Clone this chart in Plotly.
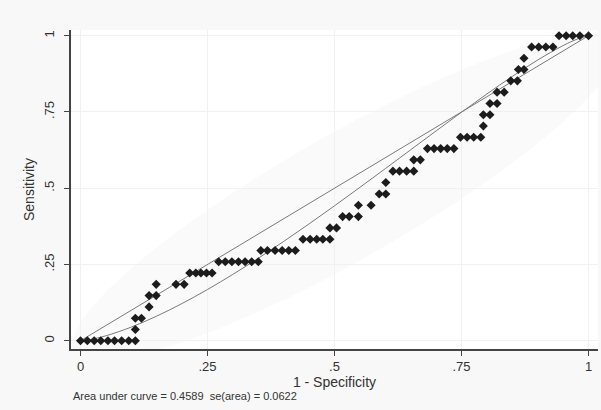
import numpy as np
import plotly.graph_objects as go

# Empirical ROC points (1 - specificity, sensitivity)
roc_x = [0, .0135, .027, .04, .054, .067, .081, .095, .108,
         .108, .108, .120, .135, .135, .149, .149, .188, .204,
         .215, .227, .237, .248, .259,
         .272, .285, .298, .311, .324, .337, .350,
         .355, .368, .383, .397, .410, .423,
         .438, .452, .465, .477, .491,
         .491, .504,
         .516, .529, .547,
         .547, .572,
         .588, .601,
         .601,
         .615, .628, .642, .656,
         .656, .669,
         .683, .696, .709, .722, .735,
         .748, .761, .774, .788,
         .793, .793, .806, .806, .820, .820, .834,
         .847, .860,
         .862, .873, .873,
         .888, .902, .916, .930,
         .942, .956, .969, .983, 1.0]
roc_y = [0, 0, 0, 0, 0, 0, 0, 0, 0,
         .037, .074, .074, .111, .148, .148, .185, .185, .185,
         .222, .222, .222, .222, .222,
         .259, .259, .259, .259, .259, .259, .259,
         .296, .296, .296, .296, .296, .296,
         .333, .333, .333, .333, .333,
         .370, .370,
         .407, .407, .407,
         .444, .444,
         .481, .481,
         .519,
         .556, .556, .556, .556,
         .593, .593,
         .630, .630, .630, .630, .630,
         .667, .667, .667, .667,
         .704, .741, .741, .778, .778, .815, .815,
         .852, .852,
         .889, .889, .926,
         .963, .963, .963, .963,
         1, 1, 1, 1, 1]

# Fitted (smooth) ROC curve
fit_x = [0, .01, .02, .05, .10, .15, .20, .25, .30, .35, .40, .45, .50,
         .55, .60, .65, .70, .75, .80, .85, .90, .95, .98, 1.0]
fit_y = [0, .0015, .0042, .0163, .0449, .0808, .1222, .168, .2177, .2704,
         .3257, .3832, .4424, .5029, .5642, .6261, .6879, .7491, .809,
         .8665, .9203, .9676, .9904, 1.0]

# Reference diagonal
diag_x = [0, 1]
diag_y = [0, 1]

tick_vals = [0, .25, .5, .75, 1]
tick_text = ["0", ".25", ".5", ".75", "1"]

FONT = "Liberation Sans, Arial, sans-serif"

fig = go.Figure()
fig.add_trace(go.Scatter(x=diag_x, y=diag_y, mode="lines",
                         line=dict(color="#7a7a7a", width=1), hoverinfo="skip"))
fig.add_trace(go.Scatter(x=fit_x, y=fit_y, mode="lines",
                         line=dict(color="#7a7a7a", width=1, shape="spline"),
                         hoverinfo="skip"))
fig.add_trace(go.Scatter(x=roc_x, y=roc_y, mode="markers",
                         marker=dict(symbol="diamond", size=7, color="#1c1c1c",
                                     line=dict(width=0))))

# faint elliptical glow behind the curves (background decoration)
t = np.linspace(0, 2 * np.pi, 80)
a_ax, b_ax, ang = 0.74, 0.17, np.pi / 4
cx, cy = 0.52, 0.47
ex = cx + a_ax * np.cos(t) * np.cos(ang) - b_ax * np.sin(t) * np.sin(ang)
ey = cy + a_ax * np.cos(t) * np.sin(ang) + b_ax * np.sin(t) * np.cos(ang)
path = "M " + " L ".join(f"{x:.4f},{y:.4f}" for x, y in zip(ex, ey)) + " Z"
fig.add_shape(type="path", path=path, xref="x", yref="y", layer="below",
              fillcolor="rgba(0,0,0,0.018)", line=dict(width=0))

axis_common = dict(
    showline=True, linecolor="#444444", linewidth=1.5,
    ticks="outside", ticklen=5, tickwidth=1, tickcolor="#444444",
    tickvals=tick_vals, ticktext=tick_text,
    showgrid=True, gridcolor="#f1f1f1", gridwidth=1, zeroline=False,
    automargin=False, ticklabeloverflow="allow",
    tickfont=dict(family=FONT, size=13, color="#333333"),
)

fig.update_layout(
    width=601, height=410,
    margin=dict(l=71, r=3, t=30, b=61, autoexpand=False),
    paper_bgcolor="#f8f8f8", plot_bgcolor="#ffffff",
    showlegend=False,
    font=dict(family=FONT, color="#333333"),
    xaxis=dict(range=[-0.0187, 1.0187],
               title=dict(text="1 - Specificity", standoff=2,
                          font=dict(family=FONT, size=14, color="#333333")),
               **axis_common),
    yaxis=dict(range=[-0.027, 1.0187], tickangle=-90, ticklabelstandoff=5,
               title=dict(text="Sensitivity", standoff=4,
                          font=dict(family=FONT, size=14, color="#333333")),
               **axis_common),
    annotations=[dict(text="Area under curve = 0.4589  se(area) = 0.0622",
                      xref="paper", yref="paper", x=0.0, y=-0.147,
                      xanchor="left", yanchor="middle", showarrow=False,
                      font=dict(family=FONT, size=11, color="#333333"))],
)

fig.write_html("out.html",
               config={"displayModeBar": False},
               post_script="document.body.style.margin='0';"
                           "document.body.style.overflow='hidden';")
